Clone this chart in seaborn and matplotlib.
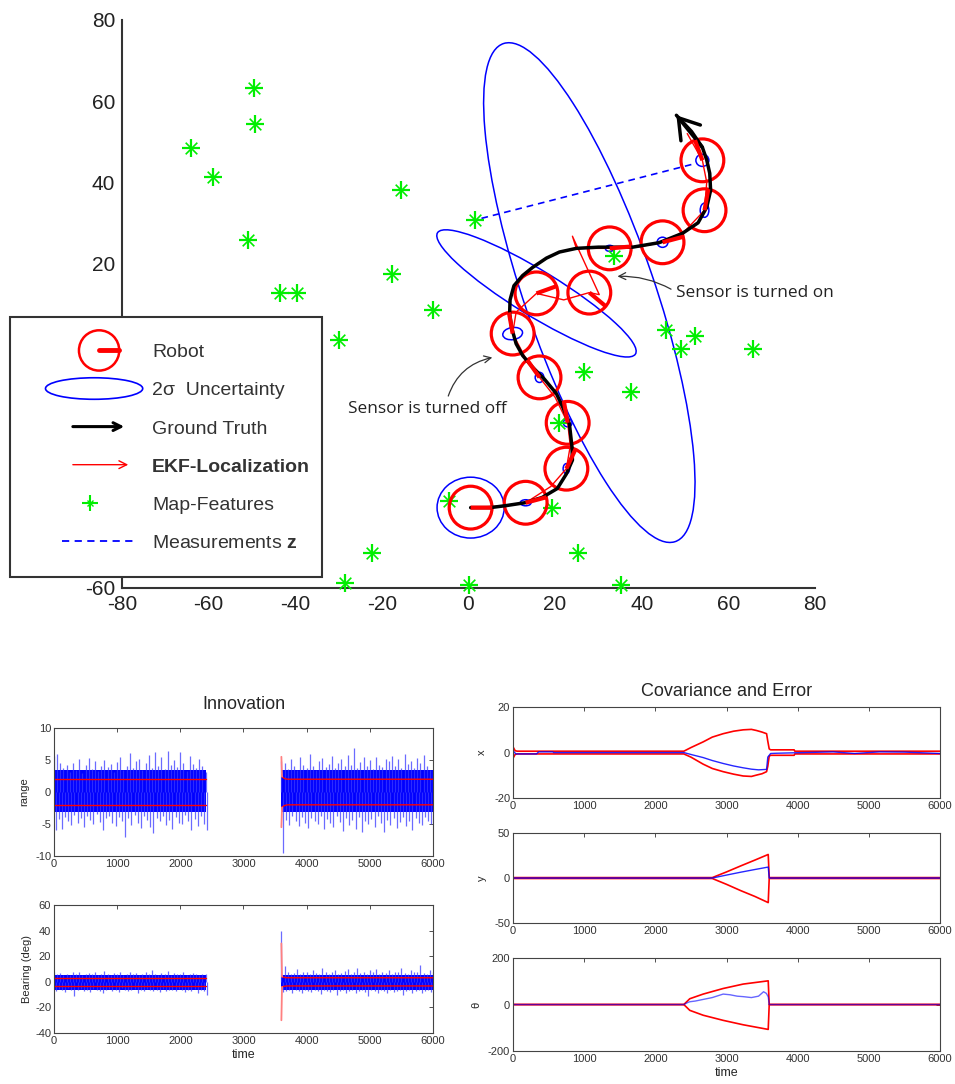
import numpy as np
import matplotlib
matplotlib.use("Agg")
import matplotlib.pyplot as plt
import matplotlib.patches as mpatches
from matplotlib.lines import Line2D
from matplotlib.legend_handler import HandlerBase
import seaborn as sns

# ---------------- map / trajectory (world frame) ----------------
feat_x = [-49.4, -49.2, -64.0, -58.9, -50.8, -15.5, -43.4, -39.5, -17.6, -8.3, 1.6, -29.8, 33.5,
          45.7, 52.2, 49.0, 65.8, 26.6, 37.6, 21.0, 19.2, 25.2, 0.2, 35.1, -4.6, -22.2, -28.4]
feat_y = [63.2, 54.3, 48.4, 41.2, 25.7, 38.0, 12.8, 12.8, 17.3, 8.4, 30.6, 1.0, 21.7,
          3.5, 2.2, -1.0, -1.0, -6.7, -11.8, -19.3, -40.2, -51.4, -59.3, -59.3, -38.5, -51.4, -58.8]

gt_x = [0.5, 5, 8.7, 13, 17, 20.5, 22.6, 24, 23.9, 23.3, 21.8, 20.3, 17.5, 14.8, 12.5, 11, 10, 9.5,
        9.6, 10.5, 12.5, 14.8, 18, 21, 24.9, 30, 37.9, 44, 49.4, 53, 55, 55.9, 55.7, 55, 54, 51.5, 48]
gt_y = [-40.2, -40.2, -39.7, -39, -37.7, -35.5, -31.9, -28.5, -25.3, -19.5, -15.5, -12.1, -8.5, -5.6,
        -2.7, 0.2, 4, 7.6, 11, 14.5, 17, 19, 21.3, 22.8, 23.7, 24, 24, 25.1, 27.4, 30, 33.8, 38, 42.2,
        45.5, 48.6, 52.5, 56.5]

ekf_x = [0.5, 7, 13.2, 19, 22.6, 23.5, 22.9, 20, 16.4, 13, 10.2, 11, 15.7, 22, 27.9, 30.2, 24, 24.9,
         32.6, 39, 44.8, 50, 54.5, 55, 54, 50.5]
ekf_y = [-40.2, -39.8, -39, -35, -30.6, -25, -19.3, -13, -8.1, -3, 2.7, 8, 12.6, 11, 12.8, 12.3, 26.7,
         23.7, 23.7, 24, 25.2, 28, 33.1, 40, 45.4, 52]

robot_x = [0.5, 13.2, 22.6, 22.9, 16.4, 10.2, 15.7, 27.9, 32.6, 44.8, 54.5, 54.0]
robot_y = [-40.2, -39.0, -30.6, -19.3, -8.1, 2.7, 12.6, 12.8, 23.7, 25.2, 33.1, 45.4]
robot_head = [0, 15, 65, 100, 125, 100, 20, -40, 5, 15, 80, 110]

cov_w = [15.5, 2.5, 1.5, 2.0, 2.0, 4.6, 54.6, 129.0, 2.0, 2.5, 2.0, 3.0]
cov_h = [15.0, 1.5, 2.5, 2.0, 2.5, 3.0, 11.0, 30.2, 1.5, 2.5, 3.5, 3.0]
cov_ang = [0, 0, 0, 0, 0, 10, -33.3, 107.8, 0, 0, 0, 0]

meas_x = [3.0, 52.7]
meas_y = [31.1, 44.7]

# ---------------- innovation (sensor on: 0-2400 and 3600-6000) ----------------
seg_a = (0, 2400)
seg_b = (3600, 6000)
rng_core = [-3.1, 3.4]
rng_hi_a = [5.6, 6.0, 4.5, 3.8, 4.3, 3.2, 4.6, 3.5, 5.1, 3.0, 4.2, 5.3, 3.6, 4.8, 3.3, 4.0, 5.0, 3.9,
            4.4, 3.1, 4.7, 5.5, 3.4, 4.1, 6.1, 3.7, 4.9, 5.2, 3.5, 4.5, 5.8, 3.8, 6.3, 4.0, 5.4, 3.6,
            6.4, 4.2, 5.0, 3.9, 6.2, 4.6, 3.3, 5.7, 4.4, 3.7, 5.1, 4.0, 3.2]
rng_lo_a = [-6.0, -4.2, -5.8, -3.9, -4.6, -5.2, -3.6, -4.9, -4.1, -5.5, -3.8, -4.4, -5.0, -3.5, -4.7,
            -5.9, -4.0, -3.7, -4.8, -5.3, -3.9, -4.5, -7.0, -4.1, -5.1, -3.6, -4.9, -5.6, -3.8, -4.3,
            -5.4, -6.4, -4.0, -4.6, -3.7, -5.2, -4.4, -5.7, -3.9, -4.8, -5.0, -3.6, -4.5, -5.9, -4.2,
            -5.3, -3.8, -5.0, -5.9]
rng_hi_b = [4.8, 4.5, 3.6, 5.2, 4.0, 3.4, 5.5, 4.3, 3.8, 5.9, 4.1, 3.5, 4.9, 5.3, 3.9, 4.4, 5.6, 3.7,
            4.6, 5.1, 4.0, 5.8, 4.2, 6.9, 3.8, 4.7, 5.4, 4.1, 5.0, 3.6, 5.5, 4.3, 3.9, 5.2, 4.8, 5.7,
            4.0, 5.1, 3.7, 5.9, 4.4, 4.9, 3.8, 5.3, 4.6, 5.8, 4.0, 3.5, 3.4]
rng_lo_b = [-9.5, -4.4, -5.1, -3.8, -4.6, -5.3, -3.9, -4.8, -5.6, -4.0, -4.5, -5.0, -3.7, -5.8, -4.2,
            -4.9, -5.4, -3.8, -4.7, -6.1, -4.1, -5.2, -4.4, -5.7, -3.9, -6.3, -4.6, -5.0, -4.2, -5.5,
            -3.8, -4.9, -6.2, -4.3, -5.1, -4.0, -5.6, -4.7, -3.9, -5.3, -4.5, -5.9, -4.1, -4.8, -5.2,
            -3.9, -4.6, -5.0, -5.4]
rng_sig_a = 2.0
rng_sig_t_b = [3600, 3610, 3650, 3700, 6000]
rng_sig_b = [5.5, 2.4, 2.1, 2.0, 2.0]

brg_core = [-6.0, 5.0]
brg_hi_a = [8, 6, 7, 5.5, 6.5, 5, 7.5, 6, 8, 5.5, 6.5, 7, 6, 7.5, 5.5, 6, 8.5, 6.5, 5, 7, 6, 7.5, 5.5,
            6.5, 8, 6, 7, 5.5, 6.5, 7.5, 6, 9, 6.5, 5.5, 7, 6, 8.5, 5.5, 7, 6.5, 6, 7.5, 5.5, 6.5, 7,
            6, 5.5, 6.5, 6]
brg_lo_a = [-7, -5.5, -6.5, -8, -5, -6, -11, -6.5, -5.5, -7.5, -6, -8, -5.5, -6.5, -7, -9, -6, -5.5,
            -7.5, -6.5, -8, -5, -6, -7, -6.5, -5.5, -8.5, -6, -7, -5.5, -6.5, -7.5, -6, -8, -5.5, -7,
            -6.5, -6, -7.5, -5.5, -6.5, -8, -6, -7, -5.5, -9, -6.5, -7, -10]
brg_hi_b = [40, 12, 8, 6.5, 7, 10, 6, 7.5, 8, 6.5, 9, 7, 6, 10.5, 7.5, 6.5, 8, 9.5, 6.5, 7, 8.5, 10,
            6.5, 7.5, 11, 7, 8, 6.5, 9, 7.5, 10, 6.5, 8, 7, 9.5, 6.5, 7.5, 8, 10.5, 7, 6.5, 9, 7.5, 8,
            13, 7, 6.5, 9, 7.5]
brg_lo_b = [-8, -7, -6, -8.5, -6.5, -7, -9, -6, -7.5, -8, -6.5, -7, -9.5, -6, -7.5, -8, -6.5, -10, -7,
            -6, -8.5, -7, -6.5, -9, -7.5, -6, -8, -11, -6.5, -7.5, -8.5, -6, -7, -9, -6.5, -8, -7.5,
            -6, -10, -7, -6.5, -8.5, -7, -6, -9, -7.5, -6.5, -8, -7]
brg_sig_a = 3.2
brg_sig_t_b = [3600, 3610, 3650, 3700, 6000]
brg_sig_b = [30.0, 4.0, 3.4, 3.2, 3.2]

# ---------------- covariance (2 sigma) and error ----------------
cx_t_sig = [0, 30, 60, 2400, 2500, 2672, 2800, 2953, 3100, 3234, 3350, 3422, 3500, 3563, 3580, 3600,
            3620, 3950, 3960, 6000]
cx_up = [2.5, 0.8, 0.6, 0.6, 2.2, 4.7, 6.8, 8.3, 9.4, 10.0, 10.2, 9.7, 9.0, 8.3, 5.0, 1.6, 1.2, 1.2,
         0.6, 0.6]
cx_lo = [-2.5, -0.8, -0.6, -0.6, -2.0, -5.1, -7.0, -8.4, -9.5, -10.3, -10.5, -9.9, -9.3, -8.4, -6.0,
         -1.6, -1.2, -1.2, -0.6, -0.6]
cx_t_err = [0, 40, 330, 360, 560, 570, 2400, 2520, 2672, 2800, 2953, 3100, 3234, 3350, 3450, 3563,
            3580, 3620, 3700, 4500, 4800, 5150, 5500, 6000]
cx_err = [0.8, -0.6, -0.6, 0.3, 0.3, 0.0, 0.0, -1.0, -2.2, -3.5, -4.8, -5.9, -6.7, -7.3, -7.6, -7.4,
          -2.0, -0.4, -0.3, 0.3, -0.4, 0.3, 0.2, -0.4]

cy_t_sig = [0, 2800, 3000, 3200, 3400, 3586, 3600, 6000]
cy_up = [0.5, 0.5, 6.8, 13.5, 20.0, 26.2, 0.5, 0.5]
cy_lo = [-0.5, -0.5, -7.0, -14.0, -20.5, -27.3, -0.5, -0.5]
cy_t_err = [0, 2800, 3000, 3200, 3400, 3586, 3600, 6000]
cy_err = [0, 0, 3.3, 6.5, 9.5, 12.2, 0, 0]

cth_t_sig = [0, 2400, 2484, 2672, 2953, 3234, 3586, 3600, 6000]
cth_up = [0, 0, 25, 45, 69, 88, 102, 0, 0]
cth_lo = [0, 0, -25, -46, -68, -87, -107, 0, 0]
cth_t_err = [0, 2400, 2450, 2484, 2560, 2672, 2800, 2953, 3050, 3150, 3234, 3350, 3450, 3520, 3560,
             3586, 3600, 6000]
cth_err = [0, 0, 8, 12, 15, 22, 30, 45, 42, 36, 34, 30, 36, 55, 48, 33, 0, 0]


sns.set_style("white")
plt.rcParams['font.family'] = ['Liberation Sans', 'DejaVu Sans']
plt.rcParams['axes.unicode_minus'] = False
plt.rcParams['mathtext.fontset'] = 'custom'
plt.rcParams['mathtext.rm'] = 'Liberation Sans'
plt.rcParams['mathtext.bf'] = 'Liberation Sans:bold'

fig = plt.figure(figsize=(9.55, 10.84), dpi=100)


def line(ax, x, y, **kw):
    sns.lineplot(x=x, y=y, sort=False, estimator=None, ax=ax, **kw)


# ================= top: trajectory =================
ax = fig.add_axes([0.1277, 0.4576, 0.7257, 0.524])
for i in range(len(robot_x)):
    ax.add_patch(mpatches.Ellipse((robot_x[i], robot_y[i]), cov_w[i], cov_h[i], angle=cov_ang[i],
                                  fill=False, ec='blue', lw=1.1, zorder=2))
sns.scatterplot(x=feat_x, y=feat_y, marker='+', s=170, color='#00ee00', linewidth=1.6, ax=ax,
                zorder=3, clip_on=False)
sns.scatterplot(x=feat_x, y=feat_y, marker='x', s=70, color='#00ee00', linewidth=1.2, ax=ax,
                zorder=3, clip_on=False)
ax.plot(meas_x, meas_y, color='blue', lw=1.2, ls=(0, (4, 3)), zorder=3)
sns.scatterplot(x=robot_x, y=robot_y, marker='o', s=950, facecolor='none', edgecolor='red',
                linewidth=2.3, ax=ax, zorder=4)
line(ax, ekf_x, ekf_y, color='red', lw=1.0, zorder=4)
line(ax, gt_x, gt_y, color='black', lw=2.5, zorder=5)
ax.annotate('', xy=(gt_x[-1], gt_y[-1]), xytext=(gt_x[-3], gt_y[-3]),
            arrowprops=dict(arrowstyle='->,head_length=0.7,head_width=0.45', lw=2.5, color='black',
                            mutation_scale=20, shrinkA=0, shrinkB=0), zorder=5)
rx, ry = 5.0, 5.3
hx, hy = [], []
for x0, y0, h in zip(robot_x, robot_y, robot_head):
    hx += [x0, x0 + rx * np.cos(np.radians(h)), np.nan]
    hy += [y0, y0 + ry * np.sin(np.radians(h)), np.nan]
ax.plot(hx, hy, color='red', lw=3, zorder=6, solid_capstyle='butt')

ax.annotate('Sensor is turned on', xy=(34.4, 16.8), xytext=(47.8, 12.6), va='center', ha='left',
            fontsize=12.4, family='Open Sans', color='#222',
            arrowprops=dict(arrowstyle='->', color='#333', lw=0.9, relpos=(0, 0.6),
                            connectionstyle='arc3,rad=0.15', shrinkA=1, shrinkB=0))
ax.annotate('Sensor is turned off', xy=(5.5, -3.2), xytext=(-27.7, -15.8), va='center', ha='left',
            fontsize=12.4, family='Open Sans', color='#222',
            arrowprops=dict(arrowstyle='->', color='#333', lw=0.9, relpos=(0.62, 1.0),
                            connectionstyle='arc3,rad=-0.3', shrinkA=1, shrinkB=0))

ax.set_xlim(-80, 80)
ax.set_ylim(-60, 80)
ax.set_xticks(range(-80, 81, 20))
ax.set_yticks(range(-60, 81, 20))
sns.despine(ax=ax)
for s in ('left', 'bottom'):
    ax.spines[s].set_linewidth(1.5)
    ax.spines[s].set_color('#333')
ax.tick_params(direction='in', length=6, width=1.5, labelsize=15, pad=5, colors='#333',
               labelcolor='#222')


class KeyHandler(HandlerBase):
    def __init__(self, kind):
        super().__init__()
        self.kind = kind

    def create_artists(self, legend, orig, xd, yd, w, h, fs, trans):
        x0 = -xd
        yc = 5.0  # middle of the capitals, above the text baseline
        k = self.kind
        if k == 'robot':
            return [mpatches.Circle((x0 + 55.5, yc), 14.5, fill=False, ec='red', lw=1.8,
                                    transform=trans),
                    Line2D([x0 + 55.5, x0 + 69.6], [yc, yc], color='red', lw=3.5, transform=trans)]
        if k == 'ellipse':
            return [mpatches.Ellipse((x0 + 51.9, yc), 70, 15.5, fill=False, ec='blue', lw=1.2,
                                     transform=trans)]
        if k in ('gt', 'ekf'):
            col, lw, end = ('black', 2.2, 75.6) if k == 'gt' else ('red', 1.0, 78.5)
            return [mpatches.FancyArrowPatch((x0 + 34.6, yc), (x0 + end, yc), arrowstyle='->',
                                             mutation_scale=14, color=col, lw=lw, transform=trans)]
        if k == 'feat':
            return [Line2D([x0 + 49.0], [yc], marker='+', ms=11, mew=1.5, color='#00ee00',
                           transform=trans),
                    Line2D([x0 + 49.0], [yc], marker='x', ms=5, mew=1.0, color='#00ee00',
                           transform=trans)]
        return [Line2D([x0 + 28.8, x0 + 80.0], [yc, yc], color='blue', lw=1.3, ls=(0, (4, 3)),
                       transform=trans)]


kinds = ['robot', 'ellipse', 'gt', 'ekf', 'feat', 'meas']
labels = ['Robot', '2\u03c3  Uncertainty', 'Ground Truth', 'EKF-Localization', 'Map-Features',
          'Measurements $\\mathbf{z}$']
proxies = [Line2D([], []) for _ in kinds]
leg = ax.legend(proxies, labels, handler_map={p: KeyHandler(k) for p, k in zip(proxies, kinds)},
                loc='upper left', bbox_to_anchor=(-0.1616, 0.4771), borderaxespad=0, fontsize=14,
                fancybox=False, framealpha=1, edgecolor='#333', borderpad=0.62, labelspacing=-0.386,
                handlelength=5.88, handleheight=3.23, handletextpad=0.8)
leg.get_frame().set_linewidth(1.5)
for t in leg.get_texts():
    t.set_color('#333')
leg.get_texts()[3].set_fontweight('bold')
leg.set_zorder(10)


# ================= bottom panels =================
def style_small(a):
    a.tick_params(direction='in', top=True, right=True, length=3, width=0.6, labelsize=8, pad=2,
                  colors='#333')
    for s in a.spines.values():
        s.set_linewidth(0.8)
        s.set_color('#444')
    a.set_xlim(0, 6000)
    a.set_xticks(range(0, 6001, 1000))


def innovation(a, core, hi_a, lo_a, hi_b, lo_b, sig_a, sig_t_b, sig_b):
    for seg, hi, lo in ((seg_a, hi_a, lo_a), (seg_b, hi_b, lo_b)):
        t = np.linspace(seg[0], seg[1], len(hi))
        dt = (seg[1] - seg[0]) / (len(hi) - 1) / 2
        a.vlines(t, 0, hi, color='#3a3aff', lw=0.9, alpha=0.75)
        a.vlines(t + dt, lo, 0, color='#3a3aff', lw=0.9, alpha=0.75)
        a.fill_between(list(seg), core[0], core[1], color='#0000ff', lw=0)
    for sgn in (1, -1):
        line(a, list(seg_a), [sgn * sig_a] * 2, color='red', lw=1.0)
        line(a, sig_t_b[1:], [sgn * v for v in sig_b[1:]], color='red', lw=1.0)
        line(a, sig_t_b[:2], [sgn * sig_b[0], sgn * sig_b[1]], color='#ff8080', lw=1.3)
    style_small(a)


a1 = fig.add_axes([0.0565, 0.2103, 0.3969, 0.1181])
innovation(a1, rng_core, rng_hi_a, rng_lo_a, rng_hi_b, rng_lo_b, rng_sig_a, rng_sig_t_b, rng_sig_b)
a1.set_ylim(-10, 10)
a1.set_yticks([-10, -5, 0, 5, 10])
a1.set_ylabel('range', fontsize=8, labelpad=4)
a1.set_title('Innovation', fontsize=13, pad=14)

a2 = fig.add_axes([0.0565, 0.0470, 0.3969, 0.1181])
innovation(a2, brg_core, brg_hi_a, brg_lo_a, brg_hi_b, brg_lo_b, brg_sig_a, brg_sig_t_b, brg_sig_b)
a2.set_ylim(-40, 60)
a2.set_yticks(range(-40, 61, 20))
a2.set_ylabel('Bearing (deg)', fontsize=8, labelpad=2)
a2.set_xlabel('time', fontsize=9, labelpad=2)


def cov_panel(rect, t_sig, up, lo, t_err, err, lim, lab, blue_alpha=0.85):
    a = fig.add_axes(rect)
    line(a, t_sig, up, color='red', lw=1.2)
    line(a, t_sig, lo, color='red', lw=1.2)
    line(a, t_err, err, color='blue', lw=1.0, alpha=blue_alpha)
    style_small(a)
    a.set_ylim(-lim, lim)
    a.set_yticks([-lim, 0, lim])
    a.set_ylabel(lab, fontsize=8, labelpad=5)
    return a


b1 = cov_panel([0.5372, 0.2638, 0.4471, 0.0839], cx_t_sig, cx_up, cx_lo, cx_t_err, cx_err, 20, 'x')
b1.set_title('Covariance and Error', fontsize=13, pad=8)
cov_panel([0.5372, 0.1485, 0.4471, 0.0830], cy_t_sig, cy_up, cy_lo, cy_t_err, cy_err, 50, 'y')
b3 = cov_panel([0.5372, 0.0304, 0.4471, 0.0858], cth_t_sig, cth_up, cth_lo, cth_t_err, cth_err, 200,
               '\u03b8', blue_alpha=0.6)
b3.set_xlabel('time', fontsize=9, labelpad=2)

fig.savefig('out.png', dpi=100)
